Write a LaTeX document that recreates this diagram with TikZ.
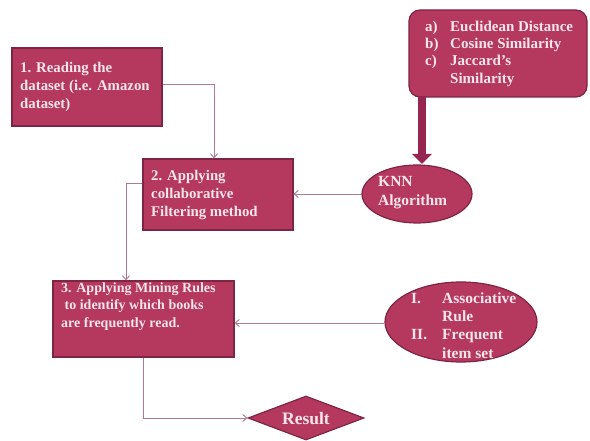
\documentclass[tikz,border=0pt]{standalone}
\usepackage{fontspec}
\setmainfont{Liberation Serif}
\usetikzlibrary{shapes.geometric,arrows.meta,positioning}
\definecolor{boxfill}{HTML}{B5385F}
\definecolor{boxedge}{HTML}{7E2444}
\definecolor{linec}{HTML}{B07A92}
\definecolor{txtc}{HTML}{F7E6EC}
\definecolor{thickc}{HTML}{962552}
\tikzset{
  base/.style={fill=boxfill, draw=boxedge, line width=1.2pt, inner sep=0pt},
  sqbox/.style={base, rectangle},
  ovbox/.style={base, ellipse},
  lbl/.style={text=txtc, font=\fontsize{14.8}{18}\selectfont\bfseries, align=left, inner sep=0pt},
  conn/.style={draw=linec, line width=0.9pt, -{Straight Barb[length=4pt,width=7pt]}},
  plain/.style={draw=linec, line width=0.9pt}
}
\begin{document}
\begin{tikzpicture}[x=1pt,y=-1pt]
\useasboundingbox (0,0) rectangle (590,441);
% boxes
\node[sqbox, minimum width=150pt, minimum height=78pt] (b1) at (87,87) {};
\node[lbl, anchor=north west] (t1) at (20,62) {1. Reading the\\dataset (i.e. Amazon\\dataset)};
\node[sqbox, minimum width=150pt, minimum height=71pt] (b2) at (218,194.5) {};
\node[lbl, anchor=north west] (t2) at (151,170) {2. Applying\\collaborative\\Filtering method};
\node[sqbox, minimum width=181pt, minimum height=76pt] (b3) at (143.5,319) {};
\node[lbl, font=\fontsize{14}{17.5}\selectfont\bfseries, anchor=north west] (t3) at (61,282.5) {3. Applying Mining Rules\\\ to identify which books\\are frequently read.};
\node[base, rectangle, rounded corners=11pt, minimum width=178pt, minimum height=87pt] (top) at (498,53.5) {};
\node[lbl, anchor=north west] (tt) at (425,19) {\fontsize{15}{17.3}\selectfont\begin{tabular}{@{}p{16pt}@{\hspace{9pt}}l@{}}a) & Euclidean Distance\\ b) & Cosine Similarity\\ c) & Jaccard's\\ & Similarity\end{tabular}};
\node[ovbox, minimum width=110pt, minimum height=58pt] (knn) at (417,194) {};
\node[lbl, font=\fontsize{15.5}{19}\selectfont\bfseries, anchor=west] (tk) at (378,193) {KNN\\Algorithm};
\node[ovbox, minimum width=152pt, minimum height=80pt] (e2) at (461,322) {};
\node[lbl, font=\fontsize{15.5}{18.3}\selectfont\bfseries, anchor=west] (te) at (411,327) {\begin{tabular}{@{}p{22pt}@{\hspace{9pt}}l@{}}I. & Associative\\ & Rule\\ II. & Frequent\\ & item set\end{tabular}};
\node[base, diamond, minimum width=116pt, minimum height=44pt, shape aspect=2.6] (res) at (306,418) {};
\node[lbl, font=\fontsize{17.5}{20}\selectfont\bfseries] (tr) at (306,419) {Result};
% connectors
\coordinate (c1) at (214,84);
\coordinate (c2) at (126,183);
\coordinate (c3) at (143,418);
\draw[conn] (b1.east |- c1) -- (c1) -- (c1 |- b2.north);
\draw[conn] (knn.west) -- (b2.east |- knn.west);
\draw[conn] (b2.west |- c2) -- (c2) -- (c2 |- b3.north);
\draw[conn] (e2.west |- 0,323) -- (b3.east |- 0,323);
\draw[conn] (c3 |- b3.south) -- (c3) -- (res.west);
\draw[thickc, line width=8pt, -{Triangle[length=10pt,width=19pt]}] (422,97) -- (422,164);
\end{tikzpicture}
\end{document}
